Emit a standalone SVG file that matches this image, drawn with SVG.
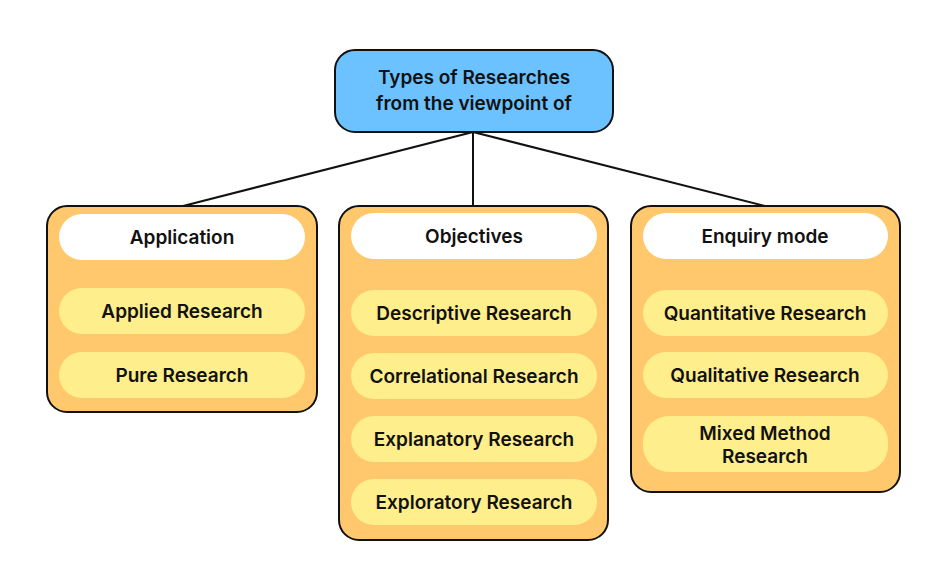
<svg xmlns="http://www.w3.org/2000/svg" width="951" height="563" viewBox="0 0 951 563">
<style>
text{font-family:Inter,"Open Sans",sans-serif;font-weight:600;font-size:19px;fill:#111;text-anchor:middle;dominant-baseline:central}
.root{fill:#6CC2FF;stroke:#111;stroke-width:2}
.grp{fill:#FFC86C;stroke:#111;stroke-width:2}
.hd{fill:#fff}
.it{fill:#FFEE8C}
.c{stroke:#111;stroke-width:2;fill:none}
</style>
<rect width="951" height="563" fill="#fff"/>
<g id="connectors">
<line class="c" x1="473" y1="132" x2="183" y2="206"/>
<line class="c" x1="473" y1="132" x2="473" y2="206"/>
<line class="c" x1="473" y1="132" x2="765" y2="206"/>
</g>
<g id="root"><rect class="root" x="335" y="50" width="278" height="82" rx="20"/>
<text x="474" y="77">Types of Researches</text><text x="474" y="103">from the viewpoint of</text></g>
<g id="application"><rect class="grp" x="47" y="206" width="270" height="206" rx="20"/>
<rect class="hd" x="59" y="214" width="246" height="46" rx="23"/><text x="182" y="237">Application</text>
<rect class="it" x="59" y="288" width="246" height="46" rx="23"/><text x="182" y="311">Applied Research</text>
<rect class="it" x="59" y="352" width="246" height="46" rx="23"/><text x="182" y="375">Pure Research</text></g>
<g id="objectives"><rect class="grp" x="339" y="206" width="269" height="334" rx="20"/>
<rect class="hd" x="351" y="213" width="246" height="46" rx="23"/><text x="474" y="236">Objectives</text>
<rect class="it" x="351" y="290" width="246" height="46" rx="23"/><text x="474" y="313">Descriptive Research</text>
<rect class="it" x="351" y="353" width="246" height="46" rx="23"/><text x="474" y="376">Correlational Research</text>
<rect class="it" x="351" y="416" width="246" height="46" rx="23"/><text x="474" y="439">Explanatory Research</text>
<rect class="it" x="351" y="479" width="246" height="46" rx="23"/><text x="474" y="502">Exploratory Research</text></g>
<g id="enquiry"><rect class="grp" x="631" y="206" width="269" height="286" rx="20"/>
<rect class="hd" x="643" y="213" width="245" height="46" rx="23"/><text x="765" y="236">Enquiry mode</text>
<rect class="it" x="643" y="290" width="245" height="46" rx="23"/><text x="765" y="313">Quantitative Research</text>
<rect class="it" x="643" y="352" width="245" height="46" rx="23"/><text x="765" y="375">Qualitative Research</text>
<rect class="it" x="643" y="416" width="245" height="56" rx="26"/><text x="765" y="433">Mixed Method</text><text x="765" y="456">Research</text></g>
</svg>
